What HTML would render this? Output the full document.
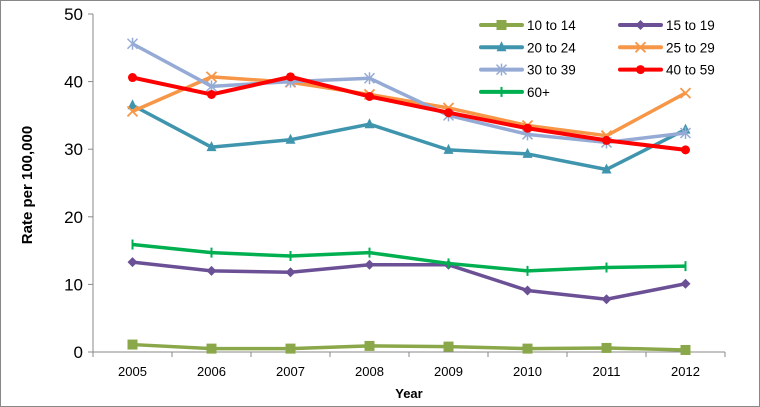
<!DOCTYPE html>
<html><head><meta charset="utf-8"><style>
body{margin:0;background:#fff;}
svg{display:block;font-family:"Liberation Sans",sans-serif;}
</style></head><body>
<svg id="chart" width="760" height="407">
<rect x="0.5" y="0.5" width="759" height="406" fill="#fff" stroke="#888"/>
<g id="axes"></g><g id="series"></g><g id="legend"></g>
<text x="32" y="185" transform="rotate(-90 32 185)" text-anchor="middle" font-size="15" font-weight="bold" fill="#000">Rate per 100,000</text>
<text x="409" y="398" text-anchor="middle" font-size="13" font-weight="bold" fill="#000">Year</text>
</svg>
<script>
const years=["2005","2006","2007","2008","2009","2010","2011","2012"];
const yTicks=[0,10,20,30,40,50];
const s1014=[1.1,0.5,0.5,0.9,0.8,0.5,0.6,0.3];
const s1519=[13.3,12.0,11.8,12.9,12.9,9.1,7.8,10.1];
const s2024=[36.5,30.3,31.4,33.7,29.9,29.3,27.0,32.9];
const s2529=[35.6,40.7,39.9,38.1,36.1,33.5,32.0,38.3];
const s3039=[45.6,39.3,40.0,40.5,35.0,32.2,31.0,32.4];
const s4059=[40.6,38.1,40.7,37.8,35.4,33.1,31.3,29.9];
const s60=[15.9,14.7,14.2,14.7,13.1,12.0,12.5,12.7];
const names=["10 to 14","15 to 19","20 to 24","25 to 29","30 to 39","40 to 59","60+"];
const NS="http://www.w3.org/2000/svg";
const X0=93,STEP=79,Y0=352,YTOP=14,YMAX=50;
const x=i=>X0+STEP*(i+0.5);
const y=v=>Y0-(v/YMAX)*(Y0-YTOP);
function mk(tag,attrs,parent){const e=document.createElementNS(NS,tag);for(const k in attrs)e.setAttribute(k,attrs[k]);parent.appendChild(e);return e;}
const axes=document.getElementById('axes');
let a=mk('line',{x1:X0,y1:YTOP,x2:X0,y2:Y0,stroke:'#888'},axes);


a=mk('line',{x1:X0,y1:Y0,x2:X0+STEP*years.length,y2:Y0,stroke:'#888'},axes);


yTicks.forEach(t=>{
  mk('line',{x1:X0-5,y1:y(t),x2:X0,y2:y(t),stroke:'#888'},axes);
  const tx=mk('text',{x:X0-10,y:y(t)+6,'text-anchor':'end','font-size':17},axes);tx.textContent=t;
  
  
});
for(let i=0;i<=years.length;i++)mk('line',{x1:X0+STEP*i,y1:Y0,x2:X0+STEP*i,y2:Y0+5,stroke:'#888'},axes);
years.forEach((yr,i)=>{const tx=mk('text',{x:x(i),y:Y0+24,'text-anchor':'middle','font-size':13},axes);tx.textContent=yr;
  
  });
const data=[s1014,s1519,s2024,s2529,s3039,s4059,s60];
const colors=['#8aa84a','#6b5096','#3f95ad','#f79646','#95abd5','#ff0000','#00b050'];
const markers=['square','diamond','triangle','x','star','circle','plus'];
function marker(g,type,cx,cy,c){
  if(type==='square')mk('rect',{x:cx-5,y:cy-5,width:10,height:10,fill:c},g);
  else if(type==='diamond')mk('polygon',{points:`${cx},${cy-5} ${cx+5},${cy} ${cx},${cy+5} ${cx-5},${cy}`,fill:c},g);
  else if(type==='triangle')mk('polygon',{points:`${cx},${cy-6} ${cx+5},${cy+4} ${cx-5},${cy+4}`,fill:c},g);
  else if(type==='circle')mk('circle',{cx:cx,cy:cy,r:4.5,fill:c},g);
  else if(type==='x'){mk('path',{d:`M${cx-5} ${cy-5}L${cx+5} ${cy+5}M${cx+5} ${cy-5}L${cx-5} ${cy+5}`,stroke:c,'stroke-width':1.8},g);}
  else if(type==='star'){mk('path',{d:`M${cx-5} ${cy-5}L${cx+5} ${cy+5}M${cx+5} ${cy-5}L${cx-5} ${cy+5}M${cx} ${cy-6}L${cx} ${cy+6}`,stroke:c,'stroke-width':1.5},g);}
  else if(type==='plus'){mk('path',{d:`M${cx} ${cy-5}L${cx} ${cy+5}`,stroke:c,'stroke-width':2},g);}
}
const sg=document.getElementById('series');
data.forEach((arr,k)=>{
  const g=mk('g',{},sg);
  
  
  mk('polyline',{points:arr.map((v,i)=>x(i)+','+y(v)).join(' '),fill:'none',stroke:colors[k],'stroke-width':k===5?4:3.5,'stroke-linejoin':'round'},g);
  arr.forEach((v,i)=>marker(g,markers[k],x(i),y(v),colors[k]));
});
const lg=document.getElementById('legend');
names.forEach((n,k)=>{
  const col=k%2,row=Math.floor(k/2);
  const lx=481+col*139,ly=25+row*22.3;
  const g=mk('g',{},lg);
  
  
  mk('line',{x1:lx,y1:ly,x2:lx+41,y2:ly,stroke:colors[k],'stroke-width':4,'stroke-linecap':'round'},g);
  marker(g,markers[k],lx+20.5,ly,colors[k]);
  const t=mk('text',{x:lx+46,y:ly+5,'font-size':13.5},g);t.textContent=n;
});
</script>
</body></html>
